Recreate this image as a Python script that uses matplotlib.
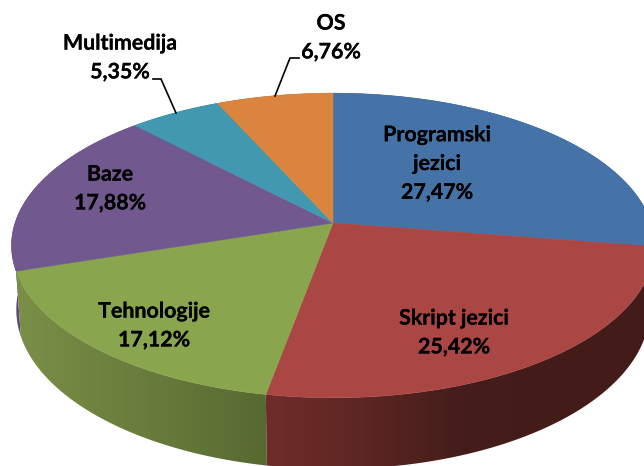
import numpy as np
import matplotlib
matplotlib.use('Agg')
import matplotlib.pyplot as plt
import matplotlib.patheffects as pe
from matplotlib.colors import LinearSegmentedColormap
from matplotlib.patches import Polygon

# data
categories = ['Programski\njezici', 'Skript jezici', 'Tehnologije', 'Baze', 'Multimedija', 'OS']
values = [27.47, 25.42, 17.12, 17.88, 5.35, 6.76]
value_labels = ['27,47%', '25,42%', '17,12%', '17,88%', '5,35%', '6,76%']

top_colors = ['#4572a7', '#aa4643', '#89a54e', '#71588f', '#4198af', '#db843d']
# wall shades from the left to the right of each slice
wall_colors = [['#2c4868', '#2c4868'],
               ['#702c2a', '#5c2623', '#451d1a', '#431c19', '#431c19'],
               ['#7a8f47', '#6f8340', '#647739', '#566931'],
               ['#5c4778', '#5c4778'],
               ['#2a6272', '#2a6272'],
               ['#8a5226', '#8a5226']]

# label centres in pixels
label_pos = [(437, 164), (454, 333), (154, 326), (110, 189), (120, 58), (331, 38)]

# projection of the pie
cx, cy = 333, 223
rx, ry = 318, 149
k = 0.1475
depth = 63
shrink = 0.985


def project(angle, bottom=False):
    u, v = np.sin(angle), np.cos(angle)
    w = 1 + k * v
    if bottom:
        return cx + shrink * rx * u / w, cy - shrink * ry * v / w + depth / w
    return cx + rx * u / w, cy - ry * v / w


fractions = np.array(values) / sum(values)
edges = np.concatenate([[0], np.cumsum(fractions)]) * 2 * np.pi

fig = plt.figure(figsize=(6.44, 4.66), dpi=100)
ax = fig.add_axes([0, 0, 1, 1])
ax.axis('off')

# walls, back ones first
for i in [3, 4, 5, 0, 2, 1]:
    a = np.linspace(edges[i], edges[i + 1], 200)
    xt, yt = project(a)
    xb, yb = project(a[::-1], bottom=True)
    xs = np.r_[xt, xb]
    ys = np.r_[yt, yb]
    cmap = LinearSegmentedColormap.from_list('wall', wall_colors[i])
    grad = np.linspace(0, 1, 256).reshape(1, -1)
    im = ax.imshow(grad, cmap=cmap, aspect='auto', zorder=1, interpolation='bilinear',
                   extent=[xs.min(), xs.max(), ys.max(), ys.min()])
    patch = Polygon(np.c_[xs, ys], closed=True, transform=ax.transData, fc='none', ec='none')
    ax.add_patch(patch)
    im.set_clip_path(patch)

# top of the pie
for i in range(len(values)):
    a = np.linspace(edges[i], edges[i + 1], 120)
    x, y = project(a)
    ax.fill(np.r_[cx, x], np.r_[cy, y], color=top_colors[i], lw=0.4, zorder=2)

# leader lines for the two outside labels
ax.plot([176, 161, 153], [113, 79, 79], color='black', lw=1.2, zorder=3)
ax.plot([275, 290, 299], [96, 58, 58], color='black', lw=1.2, zorder=3)

for name, val, pos in zip(categories, value_labels, label_pos):
    ax.text(pos[0], pos[1], name + '\n' + val, ha='center', va='center', family='Lato',
            fontweight='bold', fontsize=15.4, linespacing=1.55, color='black', zorder=4,
            path_effects=[pe.withStroke(linewidth=0.15, foreground='black')])

ax.set_xlim(0, 644)
ax.set_ylim(466, 0)

fig.savefig('out.png', dpi=100)
